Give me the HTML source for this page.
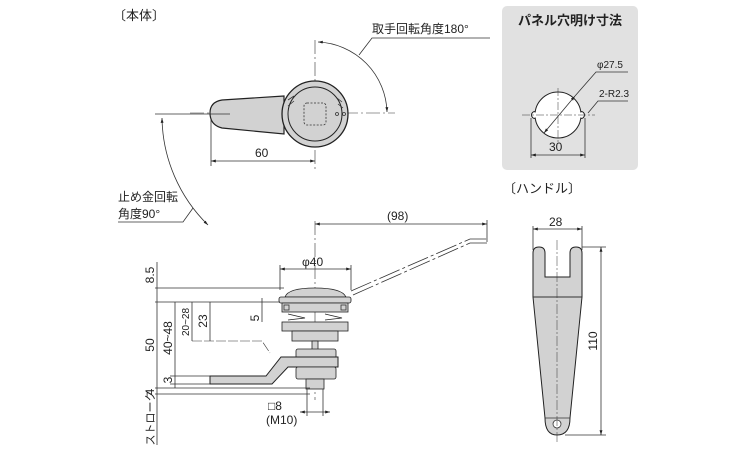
<!DOCTYPE html>
<html><head><meta charset="utf-8"><style>
html,body{margin:0;padding:0;background:#fff;}
svg{display:block;font-family:"Liberation Sans","Noto Sans CJK JP",sans-serif;}
</style></head><body>
<svg width="750" height="450" viewBox="0 0 750 450" xmlns="http://www.w3.org/2000/svg">
<defs>
<marker id="a" viewBox="0 0 10 10" refX="10" refY="5" markerWidth="6" markerHeight="6" orient="auto-start-reverse"><path d="M0,2 L10,5 L0,8 z" fill="#222"/></marker>
</defs>
<g fill="none" stroke="#333" stroke-width="0.8">
<!-- top view -->
<text x="113" y="20" font-size="13" fill="#222" stroke="none">〔本体〕</text>
<line x1="190" y1="113" x2="395" y2="113" stroke-dasharray="14,3,2,3" stroke-width="0.6"/>
<line x1="315" y1="40" x2="315" y2="170" stroke-dasharray="14,3,2,3" stroke-width="0.6"/>
<path d="M284,96 L222,100 Q210,102 210,113 Q210,125 222,128 L284,134 Z" fill="#d2d2d2" stroke="#222" stroke-width="1.2"/>
<circle cx="315" cy="114" r="33" fill="#d2d2d2" stroke="#222" stroke-width="1.3"/>
<circle cx="315" cy="114" r="27" fill="#d2d2d2" stroke="#222" stroke-width="1"/>
<rect x="304" y="103" width="22" height="22" rx="3" stroke-dasharray="2,1.5"/>
<circle cx="337" cy="114" r="1.5"/><circle cx="344" cy="114" r="1.5"/>
<path d="M288,100 L294,96 M288,106 L294,101 M337,98 L342,102 M338,104 L343,108"/>
<path d="M318,42 A72,72 0 0 1 387,112" marker-start="url(#a)" marker-end="url(#a)"/>
<path d="M359,55 L372,38 L490,38"/>
<text x="372" y="33" font-size="12" fill="#222" stroke="none">取手回転角度180°</text>
<line x1="211" y1="118" x2="211" y2="166"/>
<line x1="211" y1="161" x2="315" y2="161" marker-start="url(#a)" marker-end="url(#a)"/>
<text x="255" y="157" font-size="12" fill="#222" stroke="none">60</text>
<line x1="155" y1="114" x2="230" y2="114"/>
<path d="M162,118 A153,153 0 0 0 208,225" marker-start="url(#a)" marker-end="url(#a)"/>
<path d="M118,222 L183,222 L193,208"/>
<text x="118" y="201" font-size="12" fill="#222" stroke="none">止め金回転</text>
<text x="118" y="218" font-size="12" fill="#222" stroke="none">角度90°</text>
<!-- panel box -->
<rect x="502" y="6" width="136" height="164" rx="5" fill="#e1e1e1" stroke="none"/>
<text x="570" y="25" font-size="13" font-weight="bold" fill="#222" stroke="none" text-anchor="middle">パネル穴明け寸法</text>
<circle cx="535" cy="115" r="3.5" fill="#fff" stroke="#222" stroke-width="1"/>
<circle cx="581" cy="115" r="3.5" fill="#fff" stroke="#222" stroke-width="1"/>
<circle cx="558" cy="115" r="23" fill="#fff" stroke="#222" stroke-width="1"/>
<rect x="533" y="112.5" width="4" height="5" fill="#fff" stroke="none"/>
<rect x="579" y="112.5" width="4" height="5" fill="#fff" stroke="none"/>
<line x1="522" y1="115" x2="595" y2="115" stroke-dasharray="8,2,2,2" stroke-width="0.5"/>
<line x1="558" y1="88" x2="558" y2="142" stroke-dasharray="8,2,2,2" stroke-width="0.5"/>
<line x1="544" y1="133" x2="575" y2="96" marker-start="url(#a)" marker-end="url(#a)"/>
<path d="M575,96 L596,72 L628,72"/>
<text x="597" y="68" font-size="10" fill="#222" stroke="none">φ27.5</text>
<path d="M588,113 L598,101 L628,101"/>
<text x="599" y="97" font-size="10" fill="#222" stroke="none">2-R2.3</text>
<line x1="531" y1="118" x2="531" y2="158"/><line x1="585" y1="118" x2="585" y2="158"/>
<line x1="531" y1="155" x2="585" y2="155" marker-start="url(#a)" marker-end="url(#a)"/>
<text x="549" y="151" font-size="12" fill="#222" stroke="none">30</text>
<!-- handle -->
<text x="503" y="193" font-size="13" fill="#222" stroke="none">〔ハンドル〕</text>
<path d="M533,297 L533,253 Q533,247 539,247 Q545,247 545,253 L545,277 L570,277 L570,253 Q570,247 576,247 Q582,247 582,253 L582,297 L570,418 Q570,435 557,435 Q545,435 545,418 Z" fill="#d2d2d2" stroke="#222" stroke-width="1"/>
<line x1="533" y1="297" x2="582" y2="297" stroke-width="1"/>
<line x1="545" y1="418" x2="570" y2="418"/>
<circle cx="557" cy="424" r="4" fill="#fff"/>
<line x1="557" y1="240" x2="557" y2="442" stroke-dasharray="10,2,2,2" stroke-width="0.5"/>
<line x1="533" y1="226" x2="533" y2="250"/><line x1="582" y1="226" x2="582" y2="250"/>
<line x1="533" y1="229" x2="582" y2="229" marker-start="url(#a)" marker-end="url(#a)"/>
<text x="549" y="226" font-size="12" fill="#222" stroke="none">28</text>
<line x1="582" y1="247" x2="606" y2="247"/><line x1="565" y1="435" x2="606" y2="435"/>
<line x1="601" y1="247" x2="601" y2="435" marker-start="url(#a)" marker-end="url(#a)"/>
<text x="597" y="341" font-size="12" fill="#222" stroke="none" transform="rotate(-90 597 341)" text-anchor="middle">110</text>
<!-- side view -->
<line x1="315" y1="221" x2="315" y2="400" stroke-dasharray="14,3,2,3" stroke-width="0.6"/>
<line x1="487" y1="220" x2="487" y2="242"/>
<line x1="315" y1="224" x2="487" y2="224" marker-start="url(#a)" marker-end="url(#a)"/>
<text x="387" y="220" font-size="12" fill="#222" stroke="none">(98)</text>
<path d="M351,291 L470,239 L487,239 M353,295 L470,243 L487,243" stroke-dasharray="22,3,3,3"/>
<line x1="280" y1="265" x2="280" y2="290"/><line x1="351" y1="265" x2="351" y2="290"/>
<line x1="280" y1="269" x2="351" y2="269" marker-start="url(#a)" marker-end="url(#a)"/>
<text x="302" y="266" font-size="12" fill="#222" stroke="none">φ40</text>
<path d="M285,297 Q288,288 315,288 Q342,288 346,297 Z" fill="#d2d2d2" stroke="#222"/>
<rect x="279" y="297" width="72" height="6" rx="2" fill="#d2d2d2" stroke="#222"/>
<rect x="282" y="303" width="66" height="9" fill="#d2d2d2" stroke="#222"/>
<rect x="284" y="305" width="5" height="5"/><rect x="341" y="305" width="5" height="5"/>
<path d="M288,314 L305,318 L288,320 M325,314 L342,318 L325,320" stroke="#222"/>
<rect x="282" y="322" width="66" height="9" fill="#d2d2d2" stroke="#222"/>
<rect x="292" y="331" width="46" height="10" fill="#d2d2d2" stroke="#222"/>
<rect x="312" y="341" width="6" height="9" fill="#d2d2d2" stroke="#222"/>
<rect x="296" y="349" width="40" height="10" rx="2" fill="#d2d2d2" stroke="#222"/>
<path d="M338,357 L338,367 L288,367 L272,384 L210,384 L210,376 L266,376 L281,357 Z" fill="#d2d2d2" stroke="#222" stroke-width="1"/>
<rect x="296" y="367" width="40" height="12" rx="2" fill="#d2d2d2" stroke="#222"/>
<rect x="306" y="379" width="18" height="10" fill="#d2d2d2" stroke="#222"/>
<path d="M192,341 L262,341 L270,353" stroke-dasharray="10,2" stroke-width="0.6"/>
<!-- dims left -->
<line x1="155" y1="288" x2="284" y2="288"/>
<line x1="155" y1="302" x2="280" y2="302"/>
<line x1="170" y1="384" x2="210" y2="384"/>
<line x1="170" y1="376" x2="210" y2="376"/>
<line x1="155" y1="388" x2="310" y2="388"/>
<line x1="155" y1="394" x2="310" y2="394"/>
<line x1="157" y1="262" x2="157" y2="445"/>
<line x1="175" y1="302" x2="175" y2="388"/>
<line x1="192" y1="302" x2="192" y2="341"/>
<line x1="210" y1="302" x2="210" y2="341"/>
<line x1="262" y1="298" x2="262" y2="322"/>
<text x="154" y="275" font-size="12" fill="#222" stroke="none" transform="rotate(-90 154 275)" text-anchor="middle">8.5</text>
<text x="154" y="345" font-size="12" fill="#222" stroke="none" transform="rotate(-90 154 345)" text-anchor="middle">50</text>
<text x="172" y="338" font-size="12" fill="#222" stroke="none" transform="rotate(-90 172 338)" text-anchor="middle">40~48</text>
<text x="189" y="322" font-size="10" fill="#222" stroke="none" transform="rotate(-90 189 322)" text-anchor="middle">20~28</text>
<text x="207" y="321" font-size="12" fill="#222" stroke="none" transform="rotate(-90 207 321)" text-anchor="middle">23</text>
<text x="259" y="318" font-size="12" fill="#222" stroke="none" transform="rotate(-90 259 318)" text-anchor="middle">5</text>
<text x="172" y="380" font-size="12" fill="#222" stroke="none" transform="rotate(-90 172 380)" text-anchor="middle">3</text>
<text x="154" y="392" font-size="12" fill="#222" stroke="none" transform="rotate(-90 154 392)" text-anchor="middle">4</text>
<text x="154" y="418" font-size="11" fill="#222" stroke="none" transform="rotate(-90 154 418)" text-anchor="middle">ストローク</text>
<line x1="307" y1="389" x2="307" y2="416"/><line x1="323" y1="389" x2="323" y2="416"/>
<line x1="300" y1="412" x2="330" y2="412" marker-start="url(#a)" marker-end="url(#a)"/>
<text x="268" y="410" font-size="12" fill="#222" stroke="none">□8</text>
<text x="266" y="424" font-size="12" fill="#222" stroke="none">(M10)</text>
</g>
</svg>
</body></html>
